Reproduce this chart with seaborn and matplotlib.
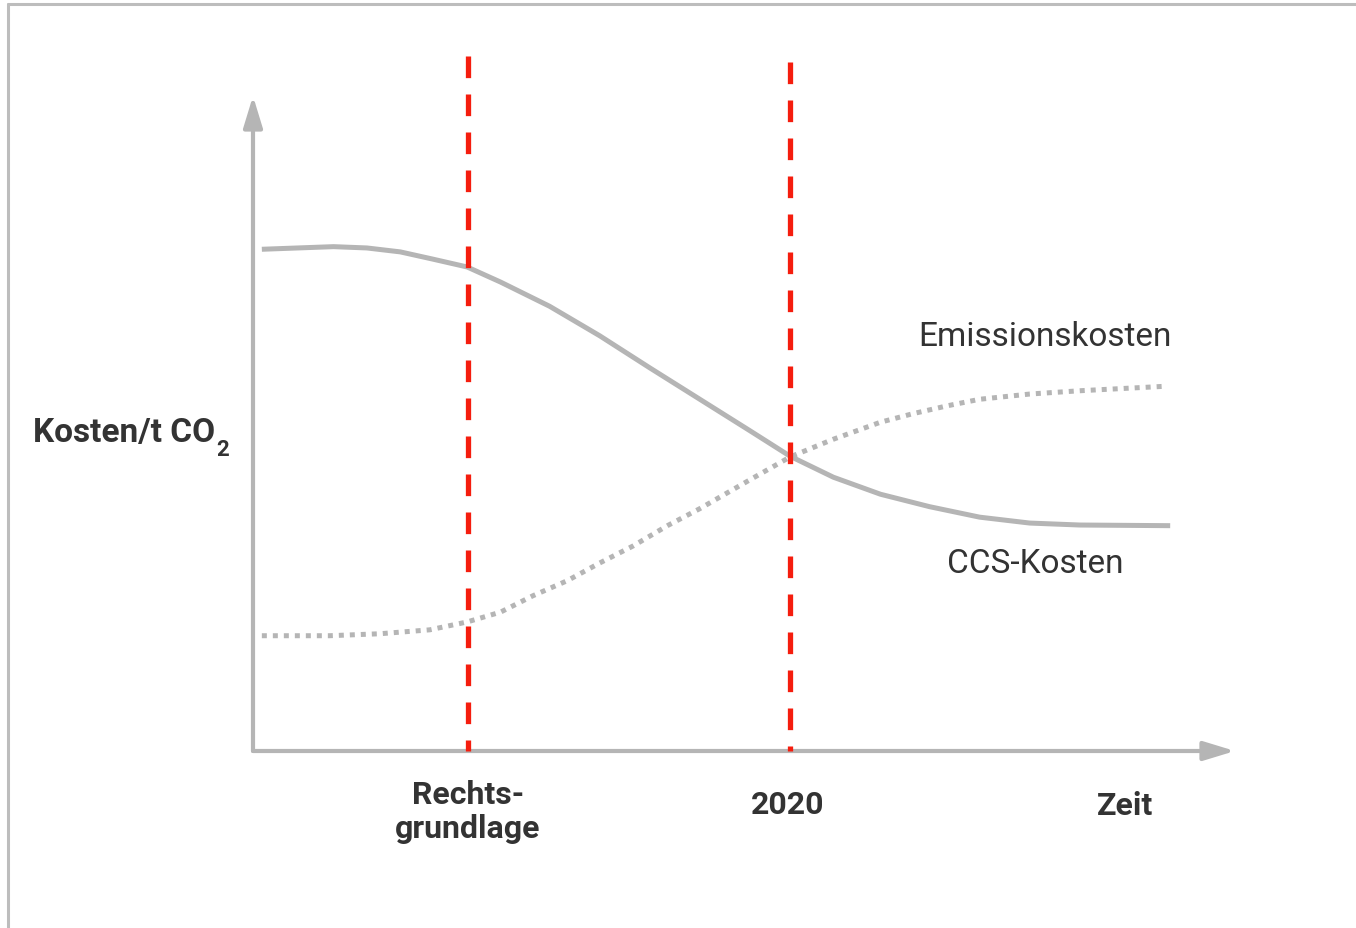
import matplotlib
matplotlib.use("Agg")
import matplotlib.pyplot as plt
from matplotlib.lines import Line2D
from matplotlib.patches import FancyArrowPatch
import pandas as pd
import seaborn as sns

# Werte (Zeit und Kosten in relativen Einheiten 0-100)
ccs_zeit = [0.9, 8.2, 11.6, 15.0, 18.3, 21.8, 25.2, 30.2, 35.3, 40.4, 45.5,
            50.6, 54.7, 59.1, 63.9, 68.9, 74.0, 79.1, 84.2, 93.4]
ccs_kosten = [76.6, 77.0, 76.8, 76.2, 75.1, 73.9, 71.6, 67.9, 63.4, 58.5, 53.7,
              48.9, 45.0, 41.8, 39.2, 37.3, 35.7, 34.8, 34.5, 34.4]

emi_zeit = [0.9, 7.8, 12.9, 18.0, 21.8, 25.2, 28.5, 32.0, 35.3, 38.7, 42.2,
            45.5, 50.6, 54.7, 59.1, 63.9, 67.2, 70.7, 74.0, 79.1, 84.2, 93.1]
emi_kosten = [17.6, 17.6, 17.9, 18.5, 19.7, 21.2, 23.7, 26.0, 28.7, 31.3, 34.4,
              37.0, 41.4, 44.9, 47.6, 50.2, 51.5, 52.7, 53.7, 54.5, 55.0, 55.7]

marken_zeit = [21.9, 54.7]
marken_oben = [106.1, 105.2]
marken_text = ["Rechts-\ngrundlage", "2020"]

grau = "#b5b5b5"
rot = "#f51d0e"
dunkel = "#333333"

df_ccs = pd.DataFrame({"Zeit": ccs_zeit, "Kosten": ccs_kosten})
df_emi = pd.DataFrame({"Zeit": emi_zeit, "Kosten": emi_kosten})

sns.set_theme(style="white")
plt.rcParams["font.family"] = ["Roboto", "DejaVu Sans"]

fig = plt.figure(figsize=(13.56, 9.29), dpi=100)
ax = fig.add_axes([253 / 1356, 1 - 752 / 929, 982 / 1356, 655 / 929])
ax.set_xlim(0, 100)
ax.set_ylim(0, 100)
ax.axis("off")

# Rahmen oben und links
fig.add_artist(Line2D([8 / 1356, 1], [1 - 5 / 929, 1 - 5 / 929], color="#bdbdbd", lw=2.2))
fig.add_artist(Line2D([8 / 1356, 8 / 1356], [0, 1 - 5 / 929], color="#bdbdbd", lw=2.2))

# Achsen mit Pfeilen
for ende in [(0, 100), (100, 0)]:
    pfeil = FancyArrowPatch((0, 0), ende, transform=ax.transData,
                            arrowstyle="-|>,head_length=19,head_width=5.8",
                            mutation_scale=1, color=grau, lw=3.0,
                            shrinkA=0, shrinkB=0, clip_on=False)
    ax.add_patch(pfeil)

# Kurven
sns.lineplot(data=df_ccs, x="Zeit", y="Kosten", ax=ax, sort=False,
             color=grau, lw=3.6, solid_capstyle="butt", solid_joinstyle="round")
sns.lineplot(data=df_emi, x="Zeit", y="Kosten", ax=ax, sort=False,
             color=grau, lw=3.6, linestyle=(0, (1.0, 1.2)), dash_capstyle="butt")

# rote Markierungen
for x, oben in zip(marken_zeit, marken_oben):
    ax.plot([x, x], [oben, 0], color=rot, lw=3.8, linestyle=(0, (4.1, 3.1)),
            dash_capstyle="butt", clip_on=False, zorder=3)

ax.text(21.9, -9.2, marken_text[0], ha="center", va="center", fontsize=23,
        fontweight="bold", color=dunkel, linespacing=1.15)
ax.text(54.4, -8.1, marken_text[1], ha="center", va="center", fontsize=23,
        fontweight="bold", color=dunkel)
ax.text(88.8, -8.2, "Zeit", ha="center", va="center", fontsize=23,
        fontweight="bold", color=dunkel)

y_titel = ax.text(-22.4, 48.7, "Kosten/t CO", ha="left", va="center", fontsize=24,
                  fontweight="bold", color=dunkel)
ax.annotate("2", xy=(1, 0), xycoords=y_titel, xytext=(1, -1), textcoords="offset points",
            ha="left", va="center", fontsize=16, fontweight="bold", color=dunkel)

ax.text(80.6, 63.4, "Emissionskosten", ha="center", va="center", fontsize=24,
        color=dunkel)
ax.text(79.7, 28.7, "CCS-Kosten", ha="center", va="center", fontsize=24,
        color=dunkel)

fig.savefig("out.png", dpi=100)
